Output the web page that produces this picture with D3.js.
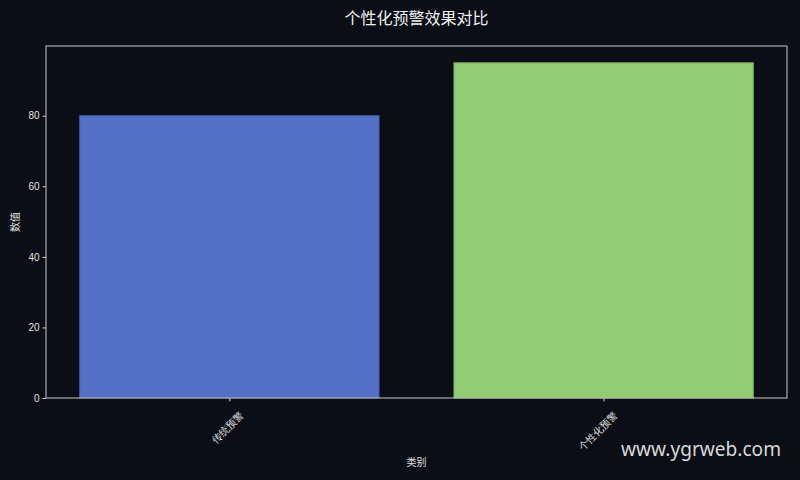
<!DOCTYPE html>
<html lang="zh">
<head>
  <meta charset="UTF-8" />
  <title>个性化预警效果对比</title>
  <script src="https://d3js.org/d3.v7.min.js"></script>
  <style>
    html, body { margin: 0; padding: 0; background: #0b0e14; }
    svg { display: block; font-family: "Noto Sans CJK SC", "Noto Sans", sans-serif; }
    .tick text { fill: #e0e0e0; font-size: 10px; }
    .tick line { stroke: #d0d0d0; }
  </style>
</head>
<body>
<div id="chart"></div>
<script>
// chart data
const categories = ["传统预警", "个性化预警"];
const values = [80, 95];
const barColors = ["#5470c6", "#91cc75"];
const yTicks = [0, 20, 40, 60, 80];

const width = 800, height = 480;
const margin = { top: 46, right: 13, bottom: 82, left: 46 };
const innerW = width - margin.left - margin.right;
const innerH = height - margin.top - margin.bottom;

const svg = d3.select("#chart").append("svg")
  .attr("width", width)
  .attr("height", height);

svg.append("rect")
  .attr("width", width).attr("height", height)
  .attr("fill", "#0b0e14");

const g = svg.append("g")
  .attr("transform", `translate(${margin.left},${margin.top})`);

// matplotlib-like: bar width 0.8, 5% margins on x, top margin 5% on y
const xLin = d3.scaleLinear()
  .domain([-0.49, categories.length - 1 + 0.49])
  .range([0, innerW]);
const y = d3.scaleLinear()
  .domain([0, d3.max(values) * 1.05])
  .range([innerH, 0]);

const barW = xLin(0.8) - xLin(0);

g.selectAll("rect.bar")
  .data(values)
  .join("rect")
  .attr("class", "bar")
  .attr("x", (d, i) => xLin(i) - barW / 2)
  .attr("y", d => y(d))
  .attr("width", barW)
  .attr("height", d => innerH - y(d))
  .attr("fill", (d, i) => barColors[i])
  .attr("stroke", (d, i) => d3.color(barColors[i]).darker(0.6))
  .attr("stroke-width", 1);

// y axis
const yAxis = g.append("g")
  .call(d3.axisLeft(y).tickValues(yTicks).tickSize(3.5).tickPadding(3));
yAxis.select(".domain").remove();

// x axis
const xAxis = g.append("g")
  .attr("transform", `translate(0,${innerH})`)
  .call(d3.axisBottom(xLin)
    .tickValues(categories.map((c, i) => i))
    .tickFormat(i => categories[i])
    .tickSize(3.5));
xAxis.select(".domain").remove();
xAxis.selectAll(".tick text")
  .attr("text-anchor", "end")
  .attr("dy", "0.35em")
  .attr("transform", "translate(7,11) rotate(-45)");

// frame
g.append("rect")
  .attr("width", innerW).attr("height", innerH)
  .attr("fill", "none")
  .attr("stroke", "#c8c8c8")
  .attr("stroke-width", 1);

// title and axis labels
svg.append("text")
  .attr("x", margin.left + innerW / 2)
  .attr("y", 24)
  .attr("text-anchor", "middle")
  .attr("fill", "#f0f0f0")
  .attr("font-size", 16)
  .text("个性化预警效果对比");

svg.append("text")
  .attr("x", margin.left + innerW / 2)
  .attr("y", 466)
  .attr("text-anchor", "middle")
  .attr("fill", "#e0e0e0")
  .attr("font-size", 10)
  .text("类别");

svg.append("text")
  .attr("transform", `translate(19,${margin.top + innerH / 2}) rotate(-90)`)
  .attr("text-anchor", "middle")
  .attr("fill", "#e0e0e0")
  .attr("font-size", 10)
  .text("数值");

// watermark
svg.append("text")
  .attr("x", 781)
  .attr("y", 456)
  .attr("text-anchor", "end")
  .attr("fill", "#d8d8d8")
  .attr("font-family", "'Noto Sans', sans-serif")
  .attr("font-size", 20)
  .attr("textLength", 160)
  .attr("lengthAdjust", "spacingAndGlyphs")
  .text("www.ygrweb.com");
</script>
</body>
</html>
